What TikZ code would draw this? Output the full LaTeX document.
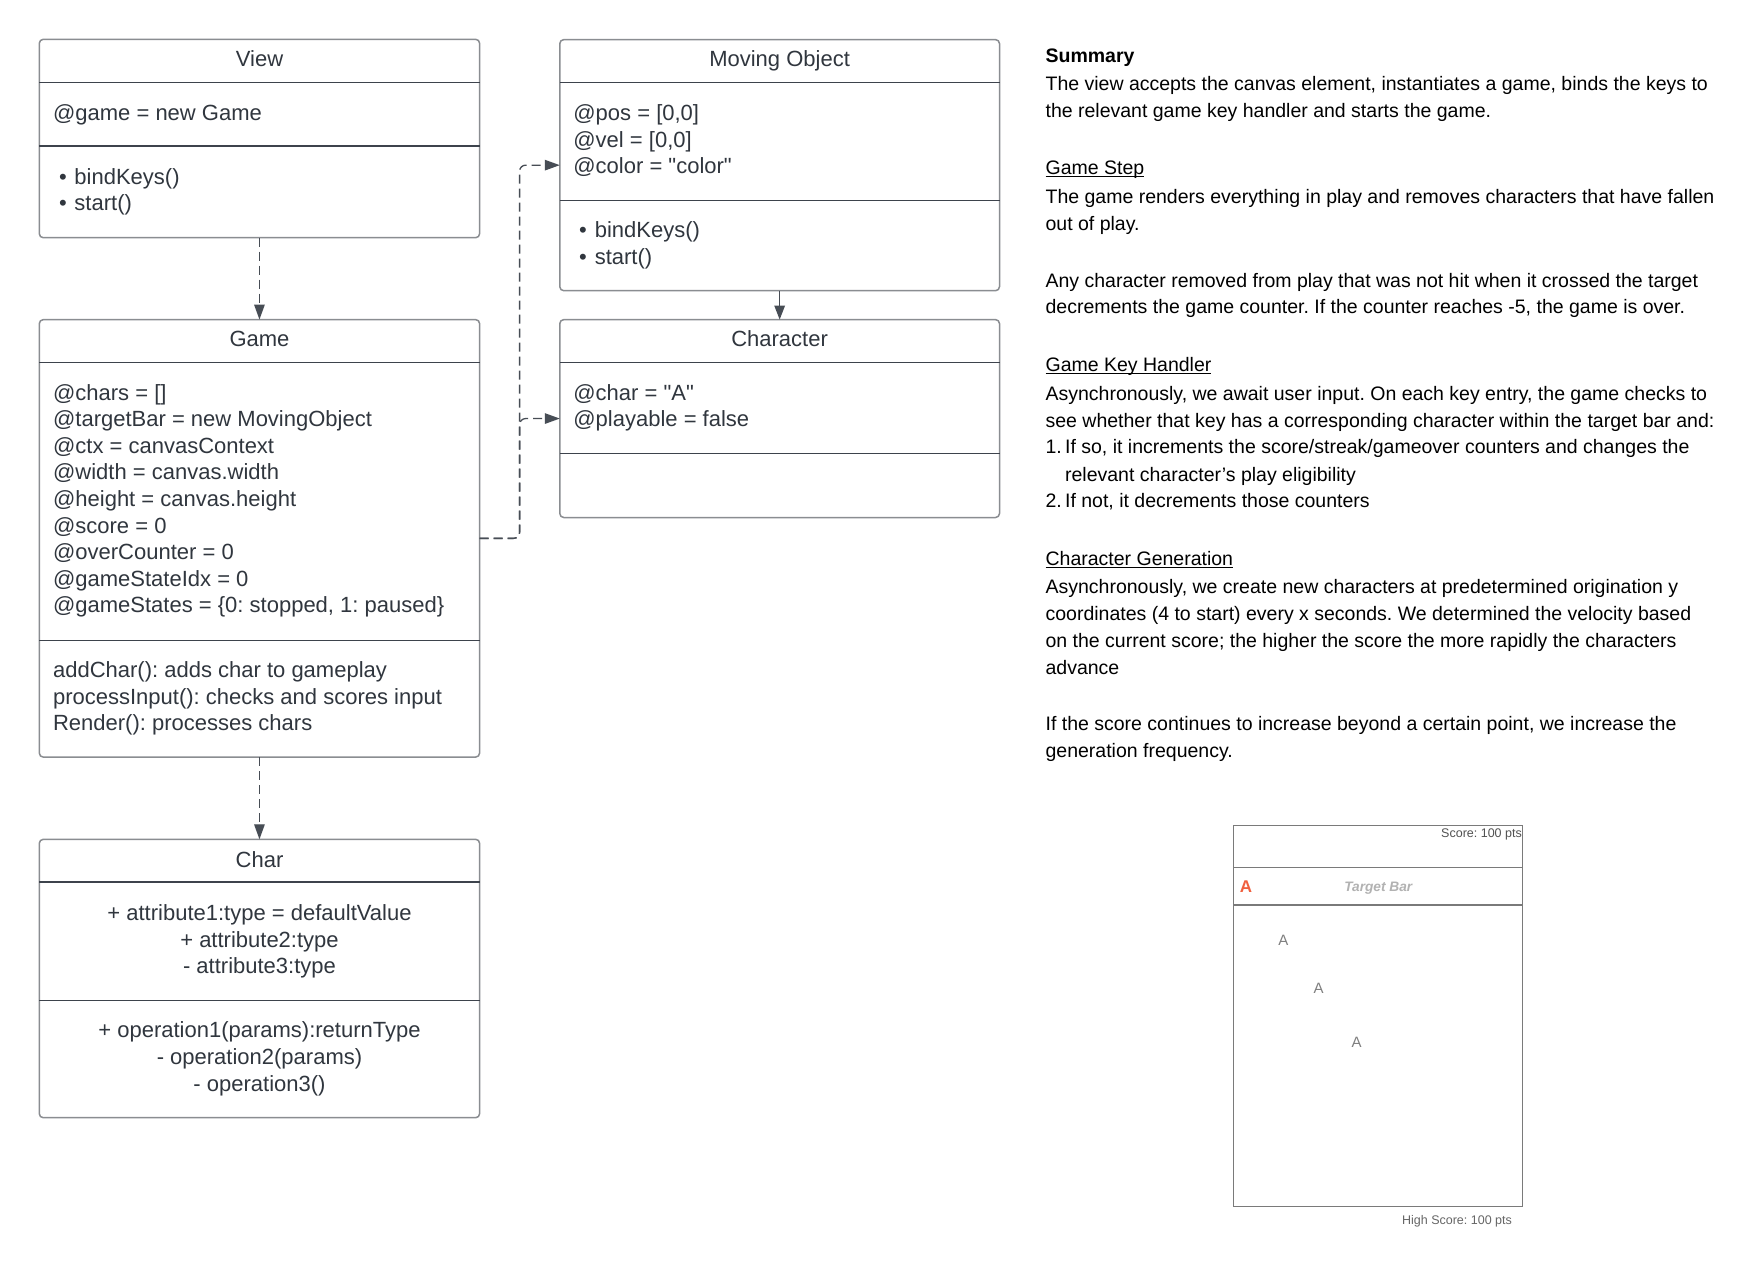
\documentclass[tikz,border=0pt]{standalone}
\usepackage{fontspec}
\setmainfont{Liberation Sans}
\newfontfamily\noligfont{Liberation Sans}[Ligatures=TeXOff]
\usetikzlibrary{arrows.meta}
\definecolor{boxgray}{HTML}{8A8D91}
\definecolor{sepcol}{HTML}{3D434C}
\definecolor{txtcol}{HTML}{30363E}
\definecolor{concol}{HTML}{474D55}
\definecolor{mockgray}{HTML}{7A7A7A}
\definecolor{reda}{HTML}{F0603F}
\newsavebox\ulbox
\newcommand\ulword[1]{\sbox\ulbox{#1}\rlap{\rule[-2.6pt]{\wd\ulbox}{1.3pt}}\usebox\ulbox}
\newcommand\sq{{\noligfont"}}
\frenchspacing
\begin{document}
\frenchspacing
\begin{tikzpicture}[x=1pt,y=-1pt,
 umlbox/.style={draw=boxgray, line width=1.5pt, rounded corners=4pt, inner sep=0pt, outer sep=0pt, anchor=north west},
 sepline/.style={draw=sepcol, line width=1.3pt},
 btext/.style={text=txtcol, font=\fontsize{22}{26.6}\selectfont\frenchspacing, inner sep=0pt, anchor=base west},
 btitle/.style={btext, anchor=base},
 dashcon/.style={draw=concol, line width=1.3pt, dash pattern=on 9pt off 5pt, rounded corners=6pt, -{Triangle[length=15pt,width=10.5pt]}},
 solidcon/.style={draw=concol, line width=1.3pt, -{Triangle[length=14pt,width=10.5pt]}},
 rtext/.style={text=black, font=\fontsize{19.5}{27}\selectfont\frenchspacing, inner sep=0pt, anchor=base west},
 mocktext/.style={inner sep=0pt, anchor=base},
]
\fill[white] (0,0) rectangle (1760,1278);
\useasboundingbox (0,0) rectangle (1760,1278);

% ---------- View
\node[umlbox, minimum width=440.3pt, minimum height=198.4pt] (view) at (39.3,39.3) {};
\draw[sepline] ([yshift=-43pt]view.north west) -- ([yshift=-43pt]view.north east);
\draw[sepline] ([yshift=-106.7pt]view.north west) -- ([yshift=-106.7pt]view.north east);
\node[btitle] (viewT) at (259.5,66.3) {View};
\node[btext] (viewA) at (52.9,120.7) {@game = new Game};
\node[btext] (viewM1) at (59,184.7) {\makebox[15.3pt][l]{•}bindKeys()};
\node[btext] (viewM2) at (59,210.7) {\makebox[15.3pt][l]{•}start()};

% ---------- Game
\node[umlbox, minimum width=440.3pt, minimum height=437.5pt] (game) at (39.3,319.6) {};
\draw[sepline] ([yshift=-43pt]game.north west) -- ([yshift=-43pt]game.north east);
\draw[sepline] ([yshift=-320.8pt]game.north west) -- ([yshift=-320.8pt]game.north east);
\node[btitle] (gameT) at (259.5,346.6) {Game};
\node[btext] (gA1) at (52.9,400) {@chars = []};
\node[btext] (gA2) at (52.9,426.6) {@targetBar = new MovingObject};
\node[btext] (gA3) at (52.9,453.2) {@ctx = canvasContext};
\node[btext] (gA4) at (52.9,479.8) {@width = canvas.width};
\node[btext] (gA5) at (52.9,506.4) {@height = canvas.height};
\node[btext] (gA6) at (52.9,533) {@score = 0};
\node[btext] (gA7) at (52.9,559.6) {@overCounter = 0};
\node[btext] (gA8) at (52.9,586.2) {@gameStateIdx = 0};
\node[btext] (gA9) at (52.9,612.8) {@gameStates = \{0: stopped, 1: paused\}};
\node[btext] (gM1) at (52.9,677.6) {addChar(): adds char to gameplay};
\node[btext] (gM2) at (52.9,704.2) {processInput(): checks and scores input};
\node[btext] (gM3) at (52.9,730.8) {Render(): processes chars};

% ---------- Char
\node[umlbox, minimum width=440.3pt, minimum height=278.4pt] (char) at (39.3,839.3) {};
\draw[sepline] ([yshift=-42.7pt]char.north west) -- ([yshift=-42.7pt]char.north east);
\draw[sepline] ([yshift=-161pt]char.north west) -- ([yshift=-161pt]char.north east);
\node[btitle] (charT) at (259.5,867) {Char};
\node[btitle] (cA1) at (259.5,920.3) {+ attribute1:type = defaultValue};
\node[btitle] (cA2) at (259.5,947) {+ attribute2:type};
\node[btitle] (cA3) at (259.5,973.7) {- attribute3:type};
\node[btitle] (cM1) at (259.5,1037.3) {+ operation1(params):returnType};
\node[btitle] (cM2) at (259.5,1064) {- operation2(params)};
\node[btitle] (cM3) at (259.5,1091.7) {- operation3()};

% ---------- Moving Object
\node[umlbox, minimum width=439.7pt, minimum height=251.1pt] (mo) at (559.8,39.6) {};
\draw[sepline] ([yshift=-42.9pt]mo.north west) -- ([yshift=-42.9pt]mo.north east);
\draw[sepline] ([yshift=-160.8pt]mo.north west) -- ([yshift=-160.8pt]mo.north east);
\node[btitle] (moT) at (779.6,66.9) {Moving Object};
\node[btext] (moA1) at (573.2,120.5) {@pos = [0,0]};
\node[btext] (moA2) at (573.2,147.2) {@vel = [0,0]};
\node[btext] (moA3) at (573.2,173.6) {@color = \sq color\sq};
\node[btext] (moM1) at (578.9,237.6) {\makebox[15.7pt][l]{•}bindKeys()};
\node[btext] (moM2) at (578.9,264.4) {\makebox[15.7pt][l]{•}start()};

% ---------- Character
\node[umlbox, minimum width=439.7pt, minimum height=197.9pt] (character) at (559.8,319.6) {};
\draw[sepline] ([yshift=-42.9pt]character.north west) -- ([yshift=-42.9pt]character.north east);
\draw[sepline] ([yshift=-133.6pt]character.north west) -- ([yshift=-133.6pt]character.north east);
\node[btitle] (chT) at (779.6,346.6) {Character};
\node[btext] (chA1) at (573.2,400.1) {@char = \sq A\sq};
\node[btext] (chA2) at (573.2,426.7) {@playable = false};

% ---------- connectors
\coordinate (bend) at (519.6,0);
\draw[dashcon] (view.south) -- (game.north);
\draw[dashcon] (game.south) -- (char.north);
\draw[solidcon] (mo.south) -- (character.north);
\draw[dashcon] (game.east) -- (game.east -| bend) |- (mo.west);
\draw[dashcon] (game.east) -- (game.east -| bend) |- (character.west);

% ---------- right text panel
\node[rtext] (r1) at (1045.4,62) {\bfseries Summary};
\node[rtext] (r2) at (1045.4,90.3) {The view accepts the canvas element, instantiates a game, binds the keys to};
\node[rtext] (r3) at (1045.4,117.7) {the relevant game key handler and starts the game.};
\node[rtext] (r4) at (1045.4,174.7) {\ulword{Game Step}};
\node[rtext] (r5) at (1045.4,203.7) {The game renders everything in play and removes characters that have fallen};
\node[rtext] (r6) at (1045.4,230.3) {out of play.};
\node[rtext] (r7) at (1045.4,287) {Any character removed from play that was not hit when it crossed the target};
\node[rtext] (r8) at (1045.4,313.7) {decrements the game counter. If the counter reaches -5, the game is over.};
\node[rtext] (r9) at (1045.4,371.3) {\ulword{Game Key Handler}};
\node[rtext] (r10) at (1045.4,400.3) {Asynchronously, we await user input. On each key entry, the game checks to};
\node[rtext] (r11) at (1045.4,427) {see whether that key has a corresponding character within the target bar and:};
\node[rtext] (r12) at (1045.4,453.7) {\makebox[19.5pt][l]{1.}If so, it increments the score/streak/gameover counters and changes the};
\node[rtext] (r13) at (1064.9,481) {relevant character’s play eligibility};
\node[rtext] (r14) at (1045.4,507.7) {\makebox[19.5pt][l]{2.}If not, it decrements those counters};
\node[rtext] (r15) at (1045.4,565.3) {\ulword{Character Generation}};
\node[rtext] (r16) at (1045.4,593.7) {Asynchronously, we create new characters at predetermined origination y};
\node[rtext] (r17) at (1045.4,620.3) {coordinates (4 to start) every x seconds. We determined the velocity based};
\node[rtext] (r18) at (1045.4,647.7) {on the current score; the higher the score the more rapidly the characters};
\node[rtext] (r19) at (1045.4,674.3) {advance};
\node[rtext] (r20) at (1045.4,730.3) {If the score continues to increase beyond a certain point, we increase the};
\node[rtext] (r21) at (1045.4,757.7) {generation frequency.};

% ---------- game mockup
\node[draw=mockgray, line width=1.5pt, minimum width=289.4pt, minimum height=381pt, inner sep=0pt, outer sep=0pt, anchor=north west] (screen) at (1233.3,825.7) {};
\draw[draw=mockgray, line width=1.5pt] ([yshift=-41.6pt]screen.north west) -- ([yshift=-41.6pt]screen.north east);
\draw[draw=mockgray, line width=1.5pt] ([yshift=-79.3pt]screen.north west) -- ([yshift=-79.3pt]screen.north east);
\node[mocktext, anchor=base east, text=black!68, font=\fontsize{12.5}{14}\selectfont\frenchspacing] (score) at (1522,837.8) {Score: 100 pts};
\node[mocktext, text=reda, font=\fontsize{17}{20}\selectfont\bfseries] (redA) at (1246,892.8) {A};
\node[mocktext, text=black!30, font=\fontsize{13.7}{16}\selectfont\bfseries\itshape] (tbar) at (1378.3,891.6) {Target Bar};
\node[mocktext, text=black!50, font=\fontsize{15}{18}\selectfont] (fa1) at (1283.3,945.4) {A};
\node[mocktext, text=black!50, font=\fontsize{15}{18}\selectfont] (fa2) at (1318.7,993.7) {A};
\node[mocktext, text=black!50, font=\fontsize{15}{18}\selectfont] (fa3) at (1356.7,1047.7) {A};
\node[mocktext, text=black!60, font=\fontsize{12.5}{14}\selectfont\frenchspacing] (hscore) at (1457,1224.5) {High Score: 100 pts};
\end{tikzpicture}
\end{document}
